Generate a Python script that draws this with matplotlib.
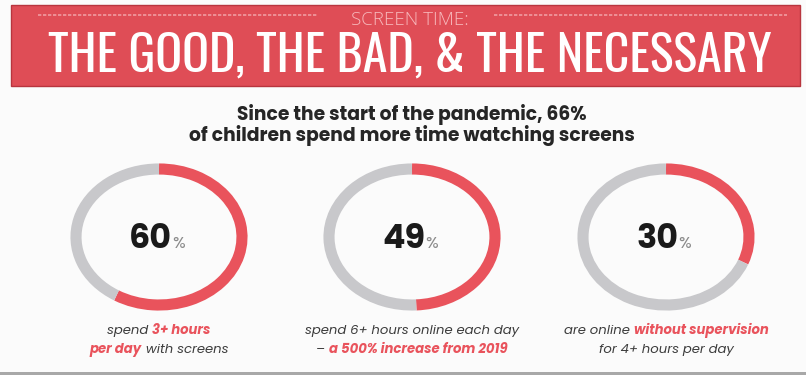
import matplotlib
matplotlib.use('Agg')
from matplotlib import pyplot as plt
from matplotlib.patches import Arc, Rectangle

# data
shares = [60, 49, 30]
ring_x = [159, 412, 666]
ring_y = 237
label_lines = [
    [[("spend ", 0), ("3+ hours", 1)], [("per day", 1), (" with screens", 0)]],
    [[("spend 6+ hours online each day", 0)], [("– ", 0), ("a 500% increase from 2019", 1)]],
    [[("are online ", 0), ("without supervision", 1)], [("for 4+ hours per day", 0)]],
]
kicker = "SCREEN TIME:"
title = "THE GOOD, THE BAD, & THE NECESSARY"
subtitle = ["Since the start of the pandemic, 66%", "of children spend more time watching screens"]

RED = '#E9535C'
GREY = '#C8C8CB'
BANNER = '#DF4D56'
DARK = '#262626'

fig = plt.figure(figsize=(8.06, 3.75), dpi=100)
ax = fig.add_axes([0, 0, 1, 1])
ax.set_xlim(0, 806)
ax.set_ylim(375, 0)
ax.axis('off')
fig.patch.set_facecolor('#FBFBFB')
renderer = fig.canvas.get_renderer()


def rich_line(xc, y, parts, **kw):
    # draw pieces side by side, then centre the whole line on xc
    texts = []
    for s, style in parts:
        t = ax.text(0, y, s, ha='left', va='baseline', **kw, **style)
        texts.append(t)
    widths = [t.get_window_extent(renderer).width for t in texts]
    x = xc - sum(widths) / 2
    for t, w in zip(texts, widths):
        t.set_x(x)
        x += w


# banner
ax.add_patch(Rectangle((11, 5), 789, 81, facecolor=BANNER, edgecolor='#B8353E', lw=1))
ax.text(410, 25, kicker, ha='center', va='baseline', color='#F7B9BC', fontsize=13.5,
        family='Open Sans', fontweight='light')
ax.plot([38, 318], [15, 15], color='#F09CA1', lw=1.2, ls=(0, (2, 1)))
ax.plot([494, 787], [15, 15], color='#F09CA1', lw=1.2, ls=(0, (2, 1)))
ax.text(410, 72, title, ha='center', va='baseline', color='white', fontsize=36,
        family='Oswald', fontweight='medium')

# subtitle
ax.text(412, 120, subtitle[0], ha='center', va='baseline', color=DARK, fontsize=13.5,
        family='Poppins', fontweight='bold')
ax.text(412, 141, subtitle[1], ha='center', va='baseline', color=DARK, fontsize=13.5,
        family='Poppins', fontweight='bold')

# rings
for p, xc in zip(shares, ring_x):
    end = 270 + 360 * p / 100
    ax.add_patch(Arc((xc, ring_y), 166, 136, theta1=270, theta2=end, color=RED, lw=8))
    ax.add_patch(Arc((xc, ring_y), 166, 136, theta1=end, theta2=630, color=GREY, lw=8))
    rich_line(xc - 2, ring_y + 11, [(str(p), dict(fontsize=24, fontweight='bold', color='#1A1A1A')),
                                    ("%", dict(fontsize=12, color='#8A8A8A'))],
              family='Poppins')

# labels under the rings
styles = [dict(color='#3C3C3C', fontweight='normal'), dict(color=RED, fontweight='bold')]
for xc, lines in zip(ring_x, label_lines):
    for i, line in enumerate(lines):
        rich_line(xc, 334 + 19 * i, [(s, styles[k]) for s, k in line],
                  family='Poppins', fontstyle='italic', fontsize=9.5)

# scanner edge at the bottom
ax.add_patch(Rectangle((0, 372), 806, 3, facecolor='#A8A8A8', edgecolor='none'))

fig.savefig('out.png')
